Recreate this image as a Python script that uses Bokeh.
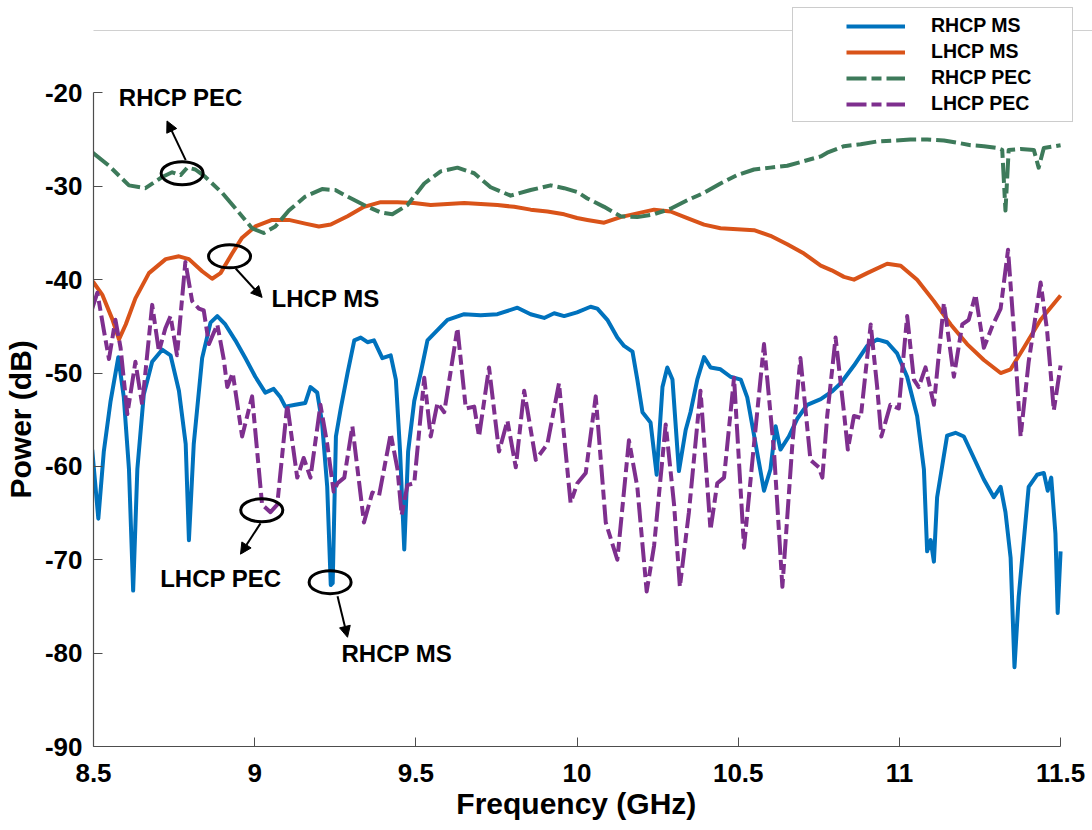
from bokeh.plotting import figure
from bokeh.models import (Range1d, FixedTicker, Legend, LegendItem, Arrow,
                          NormalHead, BoxAnnotation)
from bokeh.core.properties import value
from bokeh.embed import file_html
from bokeh.resources import INLINE

# ---------------- data ----------------
x_ticks = [8.5, 9.0, 9.5, 10.0, 10.5, 11.0, 11.5]
x_tick_labels = ["8.5", "9", "9.5", "10", "10.5", "11", "11.5"]
y_ticks = [-90, -80, -70, -60, -50, -40, -30, -20]
y_tick_labels = ["-90", "-80", "-70", "-60", "-50", "-40", "-30", "-20"]

rhcp_ms_f = [8.496, 8.515, 8.532, 8.553, 8.577, 8.594, 8.610, 8.623, 8.636, 8.656,
             8.682, 8.713, 8.739, 8.765, 8.786, 8.796, 8.811, 8.837, 8.863, 8.884,
             8.909, 8.940, 8.971, 9.002, 9.033, 9.059, 9.080, 9.095, 9.126, 9.157,
             9.173, 9.194, 9.209, 9.225, 9.236, 9.242, 9.252, 9.267, 9.288, 9.309,
             9.329, 9.350, 9.370, 9.396, 9.422, 9.438, 9.451, 9.464, 9.476, 9.495,
             9.515, 9.536, 9.567, 9.598, 9.650, 9.701, 9.753, 9.815, 9.856, 9.898,
             9.929, 9.960, 10.000, 10.042, 10.063, 10.094, 10.125, 10.146, 10.172, 10.187,
             10.203, 10.228, 10.247, 10.265, 10.280, 10.296, 10.316, 10.337, 10.352, 10.373,
             10.394, 10.414, 10.445, 10.476, 10.508, 10.528, 10.554, 10.580, 10.600, 10.616,
             10.631, 10.657, 10.683, 10.714, 10.756, 10.790, 10.818, 10.859, 10.900, 10.931,
             10.962, 10.993, 11.024, 11.055, 11.076, 11.086, 11.097, 11.107, 11.117, 11.133,
             11.148, 11.174, 11.200, 11.231, 11.262, 11.293, 11.314, 11.329, 11.345, 11.357,
             11.370, 11.386, 11.401, 11.427, 11.448, 11.460, 11.471, 11.484, 11.491, 11.500]
rhcp_ms_db = [-58.2, -65.6, -58.4, -53.0, -48.3, -52.6, -60.3, -73.3, -60.3, -52.3,
              -48.8, -47.5, -48.1, -51.9, -57.6, -67.9, -57.6, -48.4, -44.6, -43.9,
              -44.8, -46.5, -48.4, -50.4, -52.1, -51.7, -52.6, -53.6, -53.4, -53.2,
              -51.5, -52.1, -55.3, -62.2, -72.7, -72.5, -56.8, -53.8, -50.0, -46.5,
              -46.2, -46.7, -46.5, -48.4, -48.1, -50.7, -58.4, -68.9, -58.4, -53.0,
              -50.0, -46.5, -45.4, -44.3, -43.7, -43.8, -43.7, -43.0, -43.7, -44.1,
              -43.6, -43.9, -43.5, -42.9, -43.1, -44.3, -46.2, -47.1, -47.7, -50.7,
              -54.2, -55.3, -60.9, -51.5, -49.4, -50.7, -60.5, -56.1, -54.2, -50.7,
              -48.3, -49.4, -49.6, -50.4, -50.7, -52.6, -57.6, -62.6, -60.3, -55.7,
              -58.2, -56.8, -54.9, -53.4, -52.8, -52.0, -51.1, -49.2, -47.1, -46.4,
              -46.7, -47.9, -50.4, -54.6, -60.3, -69.1, -67.9, -70.2, -63.3, -59.9,
              -56.7, -56.4, -56.8, -59.1, -61.4, -63.3, -62.2, -64.9, -69.8, -81.5,
              -74.0, -67.9, -62.2, -60.9, -60.7, -62.6, -61.2, -67.2, -75.7, -69.1]

lhcp_ms_f = [8.498, 8.527, 8.558, 8.579, 8.600, 8.630, 8.672, 8.724, 8.765, 8.796,
             8.837, 8.868, 8.894, 8.930, 8.961, 9.002, 9.054, 9.106, 9.157, 9.199,
             9.236, 9.288, 9.339, 9.391, 9.443, 9.494, 9.546, 9.650, 9.753, 9.805,
             9.856, 9.908, 9.960, 10.000, 10.032, 10.084, 10.135, 10.187, 10.239, 10.290,
             10.342, 10.394, 10.445, 10.497, 10.549, 10.600, 10.652, 10.704, 10.756, 10.790,
             10.828, 10.859, 10.900, 10.962, 11.004, 11.055, 11.107, 11.159, 11.210, 11.262,
             11.314, 11.345, 11.386, 11.438, 11.500]
lhcp_ms_db = [-40.2, -41.6, -44.2, -46.4, -44.8, -42.0, -39.3, -37.8, -37.5, -37.8,
              -39.1, -39.9, -39.3, -37.2, -35.5, -34.3, -33.6, -33.6, -34.0, -34.3,
              -34.1, -33.2, -32.2, -31.7, -31.7, -31.8, -32.0, -31.8, -32.0, -32.2,
              -32.5, -32.7, -33.0, -33.4, -33.6, -33.9, -33.3, -32.9, -32.5, -32.7,
              -33.4, -34.1, -34.5, -34.6, -34.7, -35.3, -36.2, -37.2, -38.5, -39.0,
              -39.7, -40.0, -39.3, -38.3, -38.5, -40.0, -42.3, -44.8, -46.9, -48.6,
              -50.0, -49.6, -47.3, -44.3, -41.7]

rhcp_pec_f = [8.498, 8.548, 8.610, 8.661, 8.713, 8.744, 8.770, 8.791, 8.816, 8.847,
              8.899, 8.951, 8.992, 9.028, 9.064, 9.106, 9.157, 9.209, 9.250, 9.288,
              9.339, 9.391, 9.427, 9.474, 9.526, 9.577, 9.629, 9.681, 9.732, 9.794,
              9.856, 9.918, 9.960, 10.000, 10.032, 10.084, 10.135, 10.187, 10.239, 10.290,
              10.342, 10.394, 10.445, 10.497, 10.549, 10.600, 10.652, 10.704, 10.756, 10.776,
              10.828, 10.880, 10.931, 10.983, 11.034, 11.086, 11.138, 11.190, 11.221, 11.262,
              11.303, 11.319, 11.329, 11.339, 11.376, 11.417, 11.432, 11.448, 11.500]
rhcp_pec_db = [-26.4, -27.8, -29.9, -30.2, -29.0, -28.5, -28.8, -28.0, -28.2, -29.0,
               -30.7, -32.8, -34.5, -35.0, -34.3, -32.6, -31.1, -30.3, -30.4, -31.1,
               -32.0, -32.8, -33.0, -32.0, -29.7, -28.4, -28.0, -28.6, -30.1, -31.0,
               -30.4, -29.9, -30.2, -30.6, -31.3, -32.2, -33.2, -33.3, -33.0, -32.4,
               -31.5, -30.7, -29.7, -28.8, -28.2, -28.0, -27.8, -27.3, -26.8, -26.4,
               -25.7, -25.5, -25.2, -25.1, -25.0, -25.0, -25.1, -25.4, -25.6, -25.7,
               -25.9, -26.1, -32.6, -26.1, -26.0, -26.1, -28.0, -25.9, -25.6]

lhcp_pec_f = [8.496, 8.512, 8.532, 8.548, 8.568, 8.584, 8.605, 8.630, 8.651, 8.682,
              8.703, 8.723, 8.739, 8.759, 8.785, 8.806, 8.827, 8.842, 8.858, 8.884,
              8.904, 8.915, 8.932, 8.961, 8.992, 9.023, 9.049, 9.070, 9.101, 9.132,
              9.152, 9.173, 9.204, 9.225, 9.245, 9.257, 9.278, 9.303, 9.319, 9.339,
              9.365, 9.386, 9.422, 9.443, 9.456, 9.474, 9.495, 9.526, 9.546, 9.567,
              9.588, 9.629, 9.655, 9.681, 9.696, 9.727, 9.758, 9.784, 9.810, 9.836,
              9.872, 9.908, 9.944, 9.980, 10.001, 10.027, 10.058, 10.089, 10.125, 10.161,
              10.187, 10.216, 10.239, 10.275, 10.301, 10.319, 10.347, 10.383, 10.414, 10.435,
              10.456, 10.487, 10.518, 10.549, 10.580, 10.611, 10.637, 10.668, 10.693, 10.724,
              10.750, 10.761, 10.776, 10.802, 10.828, 10.840, 10.859, 10.880, 10.911, 10.931,
              10.944, 10.972, 10.998, 11.024, 11.045, 11.060, 11.081, 11.107, 11.138, 11.169,
              11.195, 11.215, 11.236, 11.262, 11.288, 11.314, 11.337, 11.355, 11.376, 11.401,
              11.438, 11.458, 11.479, 11.500]
lhcp_pec_db = [-43.1, -41.4, -45.4, -48.5, -44.3, -47.3, -54.4, -48.8, -53.4, -42.7,
               -47.7, -45.2, -43.9, -48.1, -38.1, -42.3, -43.1, -43.3, -46.9, -44.8,
               -48.5, -51.5, -50.0, -56.8, -52.5, -64.1, -64.9, -64.1, -53.4, -61.2,
               -59.1, -61.2, -53.4, -57.6, -62.7, -61.8, -61.2, -55.7, -60.3, -66.0,
               -62.8, -63.1, -56.5, -60.3, -65.2, -62.0, -61.8, -50.5, -56.8, -53.2,
               -54.2, -45.2, -53.8, -53.6, -56.8, -49.4, -58.4, -55.1, -60.1, -51.9,
               -59.3, -57.6, -51.1, -63.9, -61.8, -60.7, -52.5, -66.0, -70.0, -57.2,
               -62.2, -73.4, -68.5, -55.5, -64.1, -72.9, -64.9, -51.9, -66.8, -61.8,
               -61.2, -50.5, -68.7, -57.6, -46.9, -58.4, -72.9, -57.6, -48.4, -59.3,
               -60.1, -61.2, -54.6, -46.2, -54.2, -58.2, -54.6, -54.8, -44.8, -51.5,
               -56.8, -53.4, -53.8, -43.9, -50.7, -51.5, -49.4, -53.4, -42.5, -50.4,
               -44.8, -44.3, -41.6, -47.3, -45.0, -43.1, -36.8, -45.4, -56.8, -48.8,
               -40.3, -45.4, -54.0, -49.2]

# annotations: label text and positions (GHz, dB)
ann_text = ["RHCP PEC", "LHCP MS", "LHCP PEC", "RHCP MS"]
ann_text_f = [8.771, 9.220, 8.895, 9.441]
ann_text_db = [-20.5, -42.0, -72.0, -80.0]
ann_ell_f = [8.775, 8.922, 9.022, 9.234]
ann_ell_db = [-28.6, -37.5, -64.7, -72.4]
ann_arrow_f0 = [8.786, 8.941, 9.018, 9.257]
ann_arrow_db0 = [-27.2, -38.8, -66.1, -73.9]
ann_arrow_f1 = [8.728, 9.023, 8.956, 9.288]
ann_arrow_db1 = [-23.0, -41.9, -69.4, -78.3]

series_names = ["RHCP MS", "LHCP MS", "RHCP PEC", "LHCP PEC"]

# ---------------- figure ----------------
FONT = "Liberation Sans"
BLUE, ORANGE, GREEN, PURPLE = "#0072BD", "#D95319", "#3D7A5A", "#7E2F8E"
DASH = "20 5 10 5"

# frame runs to the right edge so the legend box can overhang the axis end
p = figure(width=1092, height=830, output_backend="svg", toolbar_location=None,
           x_range=Range1d(8.5, 11.599), y_range=Range1d(-90, -10.1),
           min_border_left=93, min_border_right=0, min_border_top=0,
           min_border_bottom=84)
p.outline_line_color = None
p.xgrid.visible = False
p.ygrid.visible = False
p.background_fill_color = "white"
p.border_fill_color = "white"

# thin grey line near the top of the picture
p.add_layout(BoxAnnotation(left=-93, right=1000, bottom=715.5, top=716.5,
                           left_units="screen", right_units="screen",
                           bottom_units="screen", top_units="screen",
                           fill_color="#d0d0d0", fill_alpha=1.0,
                           line_color=None, level="underlay"))

r1 = p.line(rhcp_ms_f, rhcp_ms_db, line_color=BLUE, line_width=4, line_join="round")
r2 = p.line(lhcp_ms_f, lhcp_ms_db, line_color=ORANGE, line_width=4, line_join="round")
r3 = p.line(rhcp_pec_f, rhcp_pec_db, line_color=GREEN, line_width=4,
            line_dash=DASH, line_join="round")
r4 = p.line(lhcp_pec_f, lhcp_pec_db, line_color=PURPLE, line_width=4,
            line_dash=DASH, line_join="round")

# ellipses, arrows and labels
p.ellipse(x=ann_ell_f, y=ann_ell_db, width=42, height=23, width_units="screen",
          height_units="screen", fill_color=None, line_color="black", line_width=3)
for f0, d0, f1, d1 in zip(ann_arrow_f0, ann_arrow_db0, ann_arrow_f1, ann_arrow_db1):
    p.add_layout(Arrow(x_start=f0, y_start=d0, x_end=f1, y_end=d1,
                       line_color="black", line_width=2,
                       end=NormalHead(size=11, fill_color="black", line_color="black")))
p.text(x=ann_text_f, y=ann_text_db, text=ann_text, text_font=value(FONT),
       text_font_style="bold", text_font_size="24px", text_color="black",
       text_align="center", text_baseline="middle")

# axes
xa = p.xaxis[0]
ya = p.yaxis[0]
xa.ticker = FixedTicker(ticks=x_ticks)
xa.major_label_overrides = {t: l for t, l in zip(x_ticks, x_tick_labels)}
ya.ticker = FixedTicker(ticks=y_ticks)
ya.major_label_overrides = {t: l for t, l in zip(y_ticks, y_tick_labels)}
xa.bounds = (8.5, 11.5)
ya.bounds = (-90, -20)
# non-breaking spaces re-centre the labels on the drawn axis spans
xa.axis_label = "Frequency (GHz)" + "\u00a0" * 4
ya.axis_label = "Power (dB)" + "\u00a0" * 11
for ax in (xa, ya):
    ax.major_tick_in = 9
    ax.major_tick_out = 0
    ax.minor_tick_in = 0
    ax.minor_tick_out = 0
    ax.axis_line_color = "#4d4d4d"
    ax.axis_line_width = 1.2
    ax.major_tick_line_color = "#4d4d4d"
    ax.major_label_text_font = FONT
    ax.major_label_text_font_style = "bold"
    ax.major_label_text_font_size = "26px"
    ax.major_label_text_color = "black"
    ax.axis_label_text_font = FONT
    ax.axis_label_text_font_style = "bold"
    ax.axis_label_text_font_size = "30px"
    ax.axis_label_text_color = "black"
xa.major_label_standoff = 17
ya.major_label_standoff = 11
xa.axis_label_standoff = 2
ya.axis_label_standoff = 5

# legend
legend = Legend(items=[LegendItem(label=n, renderers=[r]) for n, r in
                       zip(series_names, [r1, r2, r3, r4])],
                location=(699, 624), orientation="vertical",
                title=" ", title_location="left", title_text_font_size="36px",
                title_standoff=5,
                label_text_font=FONT, label_text_font_style="bold",
                label_text_font_size="19.5px", label_text_color="black",
                glyph_width=59, glyph_height=22, label_height=22, label_width=135,
                label_standoff=26, spacing=3, padding=6, margin=0,
                border_line_color="#9a9a9a", border_line_width=1.5,
                background_fill_color="white", background_fill_alpha=1.0)
p.add_layout(legend)

open("out.html", "w").write(file_html(p, INLINE))
